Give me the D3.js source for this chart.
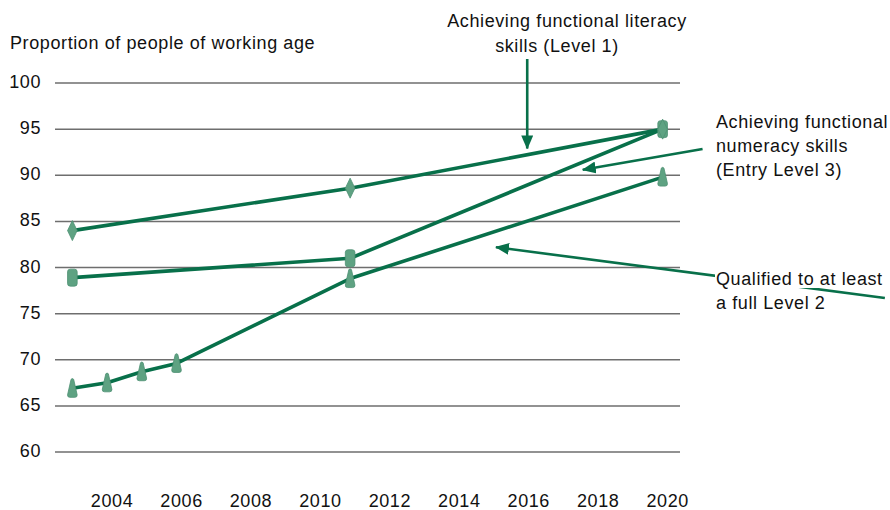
<!DOCTYPE html>
<html>
<head>
<meta charset="utf-8">
<script src="https://cdn.jsdelivr.net/npm/d3@7"></script>
<style>
  html, body { margin: 0; padding: 0; background: #fff; }
  svg { display: block; font-family: "Liberation Sans", Arial, Helvetica, sans-serif; }
  text { letter-spacing: 0.6px; }
</style>
</head>
<body>
<svg id="chart" width="890" height="510"></svg>
<script>
// Proportion of people of working age (%) by year
const literacyYears = [2003, 2011, 2020];
const literacyValues = [84, 88.6, 95];

const numeracyYears = [2003, 2011, 2020];
const numeracyValues = [78.9, 81, 95];

const level2Years = [2003, 2004, 2005, 2006, 2011, 2020];
const level2Values = [66.9, 67.5, 68.7, 69.6, 78.8, 89.8];

const yTicks = [60, 65, 70, 75, 80, 85, 90, 95, 100];
const xTicks = [2004, 2006, 2008, 2010, 2012, 2014, 2016, 2018, 2020];

const axisTitle = "Proportion of people of working age";

// Callout arrows, in data units: [year, value] tail -> tip
const literacyArrow = [[2016.1, 102.6], [2016.1, 92.9]];
const numeracyArrow = [[2021.15, 92.85], [2017.7, 90.6]];
const level2Arrow = [[2026.4, 76.7], [2015.2, 82.2]];

const lineColor = "#08704a";
const markerFill = "#5ea282";
const markerStroke = "#4e9173";
const fontSize = 18;

const svg = d3.select("#chart");
const plot = { left: 55, right: 680, top: 83, bottom: 452 };

const x = d3.scaleLinear().domain([2002.5, 2020.5]).range([plot.left, plot.right]);
const y = d3.scaleLinear().domain([60, 100]).range([plot.bottom, plot.top]);

// Horizontal gridlines
svg.append("g")
  .selectAll("line")
  .data(yTicks)
  .join("line")
  .attr("x1", plot.left)
  .attr("x2", plot.right)
  .attr("y1", d => y(d))
  .attr("y2", d => y(d))
  .attr("stroke", "#6e6e6e")
  .attr("stroke-width", 1.5);

// Y tick labels
svg.append("g")
  .selectAll("text")
  .data(yTicks)
  .join("text")
  .attr("x", plot.left - 14)
  .attr("y", d => y(d) + 5)
  .attr("text-anchor", "end")
  .attr("font-size", fontSize)
  .attr("fill", "#111")
  .text(d => d);

// X tick labels
svg.append("g")
  .selectAll("text")
  .data(xTicks)
  .join("text")
  .attr("x", d => x(d) + 5)
  .attr("y", 507)
  .attr("text-anchor", "middle")
  .attr("font-size", fontSize)
  .attr("fill", "#111")
  .text(d => d);

// Axis title
svg.append("text")
  .attr("x", 10)
  .attr("y", 49)
  .attr("font-size", fontSize)
  .attr("fill", "#111")
  .text(axisTitle);

// Series lines
const line = d3.line().x(d => x(d[0])).y(d => y(d[1]));
const series = [
  { name: "literacy", pts: d3.zip(literacyYears, literacyValues), shape: "diamond" },
  { name: "numeracy", pts: d3.zip(numeracyYears, numeracyValues), shape: "rect" },
  { name: "level2", pts: d3.zip(level2Years, level2Values), shape: "cone" }
];

svg.append("g")
  .selectAll("path")
  .data(series)
  .join("path")
  .attr("d", d => line(d.pts))
  .attr("fill", "none")
  .attr("stroke", lineColor)
  .attr("stroke-width", 3.6)
  .attr("stroke-linejoin", "round");

// Marker shapes
const shapes = {
  diamond: "M0,-10 L4.8,0 L0,10 L-4.8,0 Z",
  rect: "M-2,-8.5 L2,-8.5 Q4.8,-8.5 4.8,-6 L4.8,6 Q4.8,8.5 2,8.5 L-2,8.5 Q-4.8,8.5 -4.8,6 L-4.8,-6 Q-4.8,-8.5 -2,-8.5 Z",
  cone: "M-1.3,-9 Q0,-10.5 1.3,-9 L4.8,6.5 Q5,9 2.5,9 L-2.5,9 Q-5,9 -4.8,6.5 Z"
};

// Level 2 first, then numeracy, then literacy diamonds on top
const markerOrder = [series[2], series[1], series[0]];
markerOrder.forEach(s => {
  svg.append("g")
    .selectAll("path")
    .data(s.pts)
    .join("path")
    .attr("transform", d => `translate(${x(d[0])},${y(d[1])})`)
    .attr("d", shapes[s.shape])
    .attr("fill", markerFill)
    .attr("stroke", markerStroke)
    .attr("stroke-width", 0.8);
});

// Arrowhead
svg.append("defs").append("marker")
  .attr("id", "arrowhead")
  .attr("markerUnits", "userSpaceOnUse")
  .attr("viewBox", "0 0 14 12")
  .attr("refX", 13)
  .attr("refY", 6)
  .attr("markerWidth", 14)
  .attr("markerHeight", 12)
  .attr("orient", "auto")
  .append("path")
  .attr("d", "M0,0 L14,6 L0,12 Z")
  .attr("fill", lineColor);

svg.append("g")
  .selectAll("line")
  .data([literacyArrow, numeracyArrow, level2Arrow])
  .join("line")
  .attr("x1", d => x(d[0][0]))
  .attr("y1", d => y(d[0][1]))
  .attr("x2", d => x(d[1][0]))
  .attr("y2", d => y(d[1][1]))
  .attr("stroke", lineColor)
  .attr("stroke-width", 2.6)
  .attr("marker-end", "url(#arrowhead)");

// Callout labels, each line on its own white box so arrows pass behind
const labels = [
  { lines: ["Achieving functional literacy"], x: 567, y: 27, anchor: "middle" },
  { lines: ["skills (Level 1)"], x: 557, y: 52, anchor: "middle" },
  { lines: ["Achieving functional", "numeracy skills", "(Entry Level 3)"], x: 716, y: 128, anchor: "start" },
  { lines: ["Qualified to at least", "a full Level 2"], x: 716, y: 285, anchor: "start" }
];

labels.forEach(l => {
  l.lines.forEach((s, i) => {
    const g = svg.append("g");
    const t = g.append("text")
      .attr("x", l.x)
      .attr("y", l.y + i * 24)
      .attr("text-anchor", l.anchor)
      .attr("font-size", fontSize)
      .attr("fill", "#111")
      .text(s);
    const bb = t.node().getBBox();
    g.insert("rect", "text")
      .attr("x", bb.x - 1)
      .attr("y", bb.y + 1)
      .attr("width", bb.width + 2)
      .attr("height", bb.height - 2)
      .attr("fill", "#fff");
  });
});
</script>
</body>
</html>
